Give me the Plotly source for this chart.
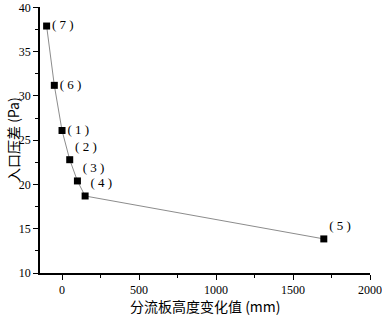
import plotly.graph_objects as go

x_vals = [-100, -50, 0, 50, 100, 150, 1700]
y_vals = [37.9, 31.2, 26.1, 22.8, 20.4, 18.7, 13.85]
labels = ["( 7 )", "( 6 )", "( 1 )", "( 2 )", "( 3 )", "( 4 )", "( 5 )"]
positions = ["middle right", "middle right", "middle right", "top right", "top right", "top right", "top right"]
x_ticks = [0, 500, 1000, 1500, 2000]
y_ticks = [10, 15, 20, 25, 30, 35, 40]

fig = go.Figure()
fig.add_trace(go.Scatter(
    x=x_vals, y=y_vals, mode="lines+markers+text",
    text=labels, textposition=positions,
    textfont=dict(family="Liberation Serif", size=13, color="black"),
    line=dict(color="#8c8c8c", width=1),
    marker=dict(symbol="square", size=7, color="black"),
    cliponaxis=False, showlegend=False,
))

axis_common = dict(
    showline=True, linecolor="black", linewidth=1.5, mirror=False,
    ticks="outside", ticklen=5, tickwidth=1, tickcolor="black",
    showgrid=False, zeroline=False, automargin=False, ticklabeloverflow="allow",
    tickfont=dict(family="Liberation Serif", size=12, color="black"),
    minor=dict(ticks="outside", ticklen=3, tickcolor="black", showgrid=False),
)

fig.update_xaxes(range=[-143, 2000], tickvals=x_ticks, minor_dtick=250, **axis_common)
fig.update_yaxes(range=[10, 40.05], tickvals=y_ticks, minor_dtick=2.5, **axis_common)

fig.add_annotation(text="分流板高度变化值 (mm)", xref="paper", yref="paper",
                   x=0.5, y=0, yshift=-33, xanchor="center", yanchor="middle", showarrow=False,
                   font=dict(family="Noto Sans CJK SC", size=14, color="black"))
fig.add_annotation(text="入口压差 (Pa)", xref="paper", yref="paper", textangle=-90,
                   x=0, y=0.5, xshift=-27, xanchor="center", yanchor="middle", showarrow=False,
                   font=dict(family="Noto Sans CJK SC", size=14, color="black"))

fig.update_layout(
    width=382, height=315,
    margin=dict(l=40, r=12, t=7, b=42),
    paper_bgcolor="white", plot_bgcolor="white",
)
fig.write_html("out.html", config={"displayModeBar": False},
               post_script="document.body.style.margin='0';")
